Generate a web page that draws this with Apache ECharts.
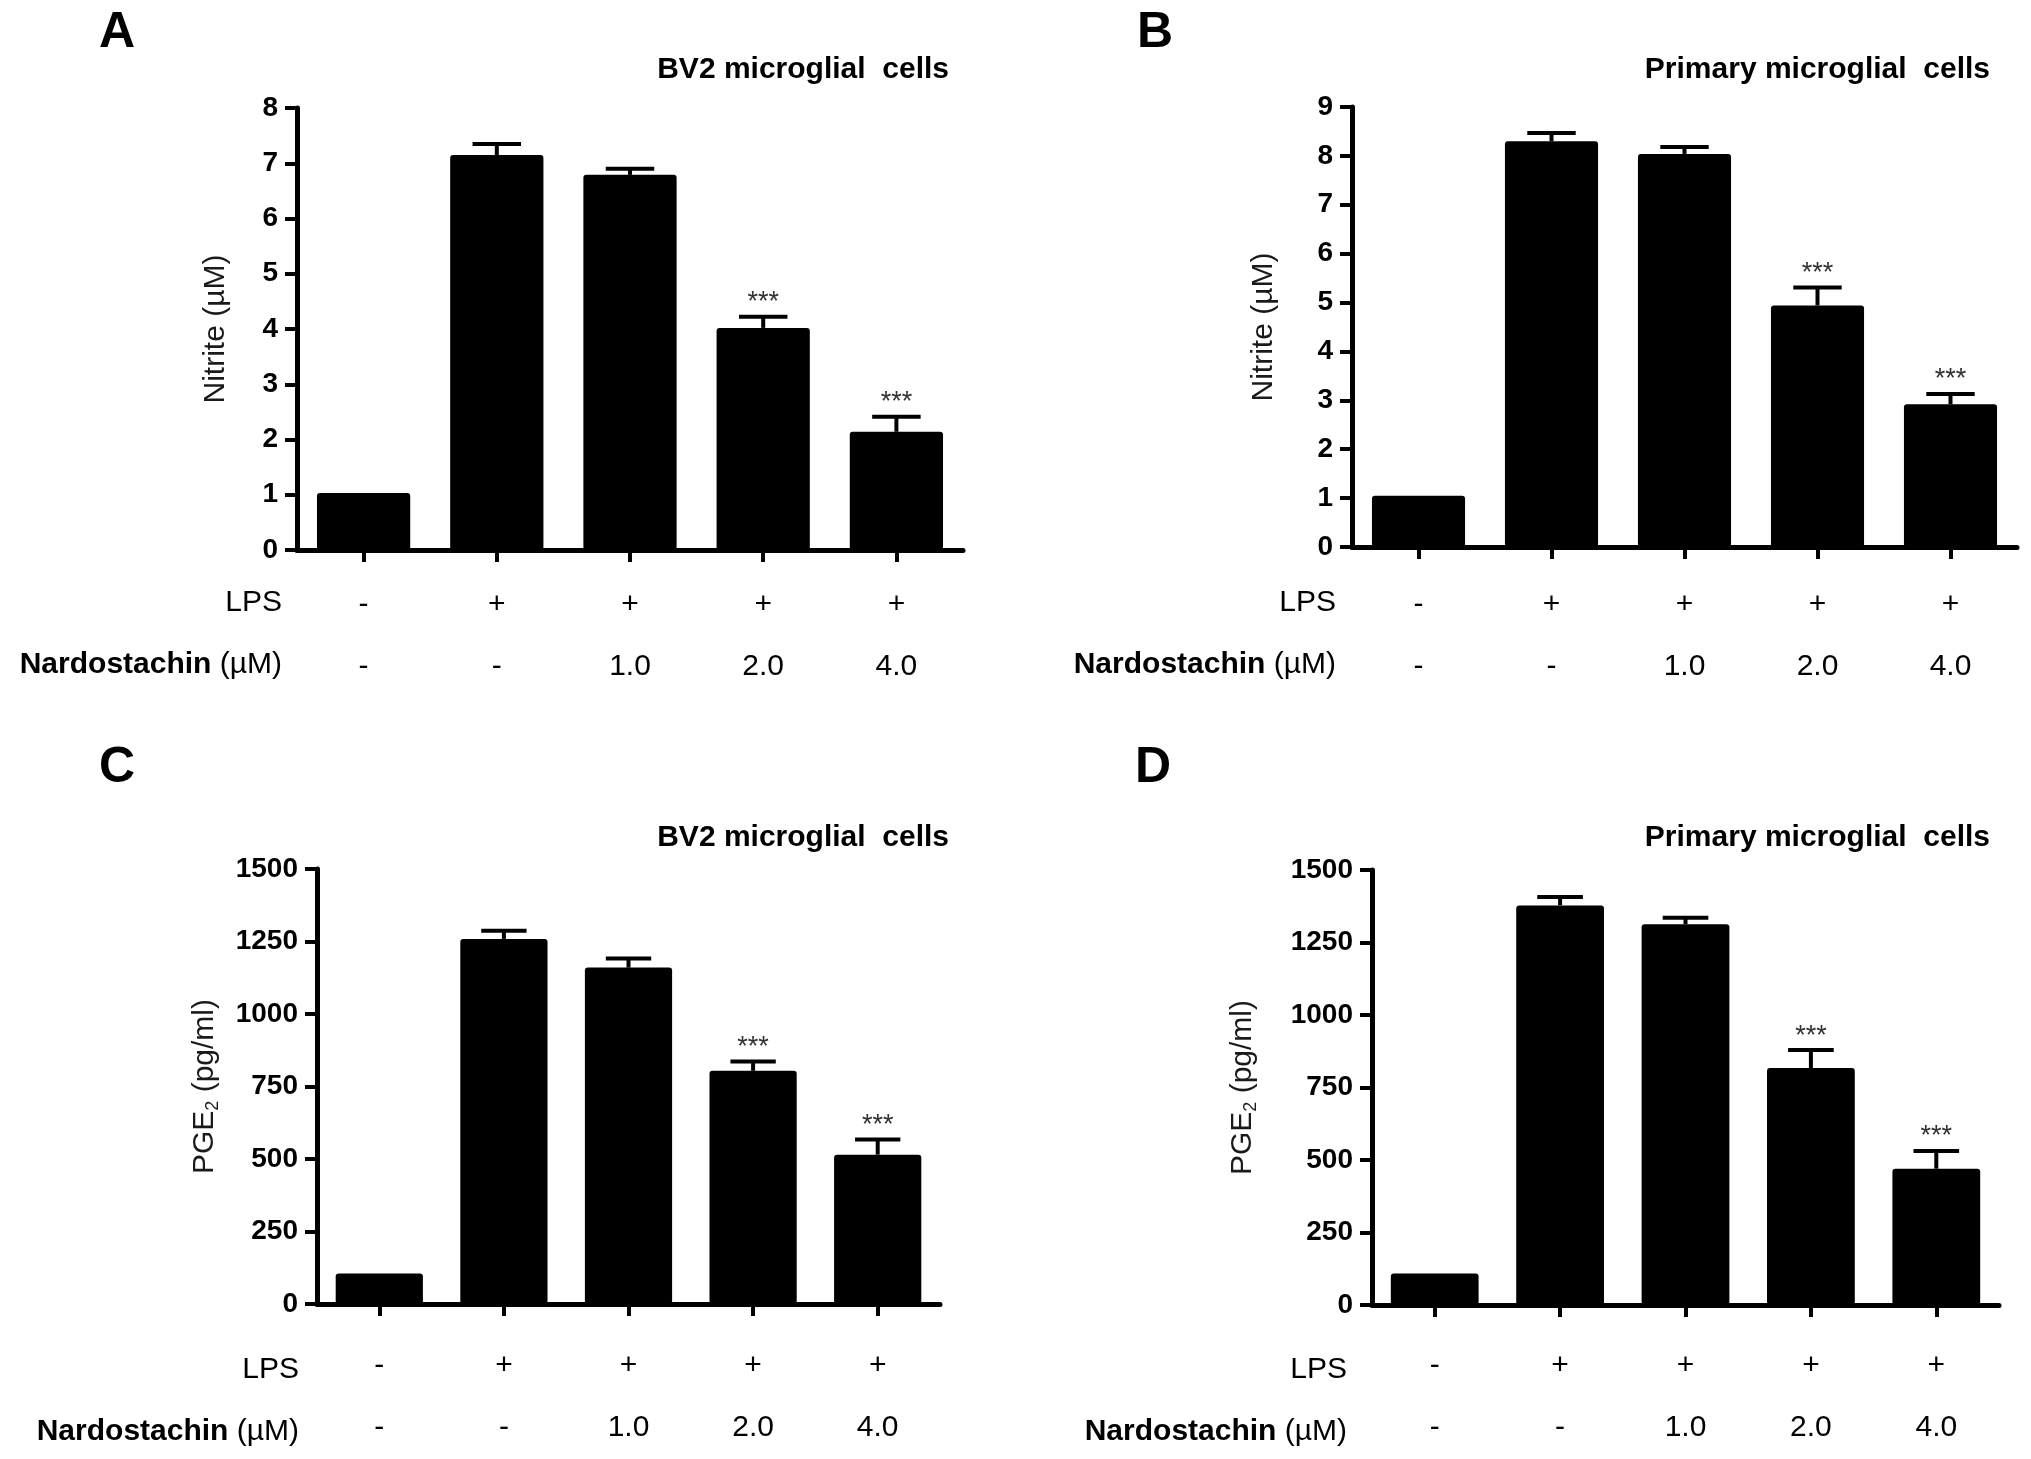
<!DOCTYPE html>
<html>
<head>
<meta charset="utf-8">
<script src="https://cdn.jsdelivr.net/npm/echarts@6/dist/echarts.min.js"></script>
<style>
html,body{margin:0;padding:0;background:#fff;}
#chart{width:2031px;height:1459px;}
</style>
</head>
<body>
<div id="chart"></div>
<script>
// ---- data ----
const lpsRow = ['-', '+', '+', '+', '+'];
const nardoRow = ['-', '-', '1.0', '2.0', '4.0'];
const sigFlags = [false, false, false, true, true];

const nitriteBV2 = [1.03, 7.15, 6.79, 4.02, 2.14];
const nitriteBV2Err = [0, 0.20, 0.11, 0.20, 0.27];
const nitritePrimary = [1.05, 8.30, 8.04, 4.94, 2.92];
const nitritePrimaryErr = [0, 0.17, 0.14, 0.37, 0.21];
const pgeBV2 = [105, 1259, 1160, 804, 515];
const pgeBV2Err = [0, 28, 31, 32, 52];
const pgePrimary = [109, 1378, 1313, 817, 470];
const pgePrimaryErr = [0, 29, 22, 62, 61];

const panelLetters = ['A', 'B', 'C', 'D'];
const panelTitles = ['BV2 microglial  cells', 'Primary microglial  cells', 'BV2 microglial  cells', 'Primary microglial  cells'];
const yMax = [8, 9, 1500, 1500];
const yInterval = [1, 1, 250, 250];

// ---- layout ----
const FONT = "'Liberation Sans', Arial, Helvetica, sans-serif";
const panels = [
  {grid: {left: 297, top: 108, width: 666, height: 442}, nameGap: 66, labelMargin: 24, name: 'Nitrite (µM)',
   means: nitriteBV2, errs: nitriteBV2Err, letter: [117, 33], title: [949, 70], rowRight: 282, rowY: [603, 665]},
  {grid: {left: 1352, top: 107, width: 665, height: 440}, nameGap: 73, labelMargin: 27, name: 'Nitrite (µM)',
   means: nitritePrimary, errs: nitritePrimaryErr, letter: [1155, 33], title: [1990, 70], rowRight: 1336, rowY: [603, 665]},
  {grid: {left: 317, top: 869, width: 623, height: 442}, nameGap: 95, labelMargin: 31, name: '{n|PGE}{s|2}{n| (pg/ml)}',
   means: pgeBV2, errs: pgeBV2Err, letter: [117, 768], title: [949, 838], rowRight: 299, rowY: [1370, 1432]},
  {grid: {left: 1372, top: 870, width: 627, height: 442}, nameGap: 112, labelMargin: 30, name: '{n|PGE}{s|2}{n| (pg/ml)}',
   means: pgePrimary, errs: pgePrimaryErr, letter: [1153, 768], title: [1990, 838], rowRight: 1347, rowY: [1370, 1432]}
];

const grids = [], xAxes = [], yAxes = [], series = [], graphics = [];

panels.forEach((p, k) => {
  grids.push({left: p.grid.left, top: p.grid.top, width: p.grid.width, height: p.grid.height, containLabel: false});
  xAxes.push({
    type: 'category', gridIndex: k, data: [0, 1, 2, 3, 4], boundaryGap: true,
    axisLine: {show: true, lineStyle: {color: '#000', width: 5}},
    axisTick: {show: true, alignWithLabel: true, interval: 0, length: 12, lineStyle: {color: '#000', width: 4}},
    axisLabel: {
      interval: 0, margin: p.labelMargin, color: '#000', fontFamily: FONT, fontSize: 30, lineHeight: 62,
      formatter: (v, i) => lpsRow[i] + '\n' + nardoRow[i]
    },
    splitLine: {show: false}
  });
  yAxes.push({
    type: 'value', gridIndex: k, min: 0, max: yMax[k], interval: yInterval[k],
    name: p.name, nameLocation: 'middle', nameGap: p.nameGap,
    nameTextStyle: {fontFamily: FONT, fontSize: 30, color: '#1a1a1a',
      rich: {n: {fontFamily: FONT, fontSize: 30, color: '#1a1a1a', lineHeight: 34},
             s: {fontFamily: FONT, fontSize: 18, color: '#1a1a1a', verticalAlign: 'bottom', lineHeight: 18}}},
    axisLine: {show: true, lineStyle: {color: '#000', width: 5}},
    axisTick: {show: true, length: 12, lineStyle: {color: '#000', width: 4}},
    axisLabel: {margin: 19, color: '#000', fontFamily: FONT, fontSize: 28, fontWeight: 'bold',
      formatter: v => String(v)},
    splitLine: {show: false}
  });
  series.push({
    type: 'bar', xAxisIndex: k, yAxisIndex: k, data: p.means, barWidth: '70%',
    itemStyle: {color: '#000', borderRadius: 3}, z: 2, silent: true
  });
  series.push({
    type: 'custom', xAxisIndex: k, yAxisIndex: k, z: 3, silent: true,
    data: p.means.map((m, i) => [i, m, p.errs[i], sigFlags[i] ? 1 : 0]),
    renderItem: function (params, api) {
      const x = api.value(0), m = api.value(1), e = api.value(2), s = api.value(3);
      const base = api.coord([x, m]);
      const top = api.coord([x, m + e]);
      const bw = api.size([1, 0])[0] * 0.7;
      const half = bw * 0.26;
      const children = [];
      if (e > 0) {
        children.push({type: 'line', shape: {x1: top[0], y1: base[1], x2: top[0], y2: top[1]}, style: {stroke: '#000', lineWidth: 4}});
        children.push({type: 'line', shape: {x1: top[0] - half, y1: top[1], x2: top[0] + half, y2: top[1]}, style: {stroke: '#000', lineWidth: 4}});
      }
      if (s) {
        children.push({type: 'text', x: top[0], y: top[1] - 14,
          style: {text: '***', fill: '#333', font: '27px ' + FONT, align: 'center', verticalAlign: 'middle'}});
      }
      return {type: 'group', children: children};
    }
  });
  graphics.push({type: 'text', x: p.letter[0], y: p.letter[1],
    style: {text: panelLetters[k], fill: '#000', font: 'bold 50px ' + FONT, align: 'center', verticalAlign: 'middle'}});
  graphics.push({type: 'text', x: p.title[0], y: p.title[1],
    style: {text: panelTitles[k], fill: '#000', font: 'bold 30px ' + FONT, align: 'right', verticalAlign: 'middle'}});
  graphics.push({type: 'text', x: p.rowRight, y: p.rowY[0],
    style: {text: 'LPS', fill: '#000', font: '30px ' + FONT, align: 'right', verticalAlign: 'middle'}});
  graphics.push({type: 'text', x: p.rowRight, y: p.rowY[1],
    style: {text: '{b|Nardostachin }{r|(µM)}', align: 'right', verticalAlign: 'middle',
      rich: {b: {fontFamily: FONT, fontSize: 30, fontWeight: 'bold', fill: '#000', color: '#000'},
             r: {fontFamily: FONT, fontSize: 30, fill: '#000', color: '#000'}}}});
});

const chart = echarts.init(document.getElementById('chart'), null, {renderer: 'canvas'});
chart.setOption({
  backgroundColor: '#fff',
  animation: false,
  grid: grids,
  xAxis: xAxes,
  yAxis: yAxes,
  series: series,
  graphic: graphics
});
</script>
</body>
</html>
